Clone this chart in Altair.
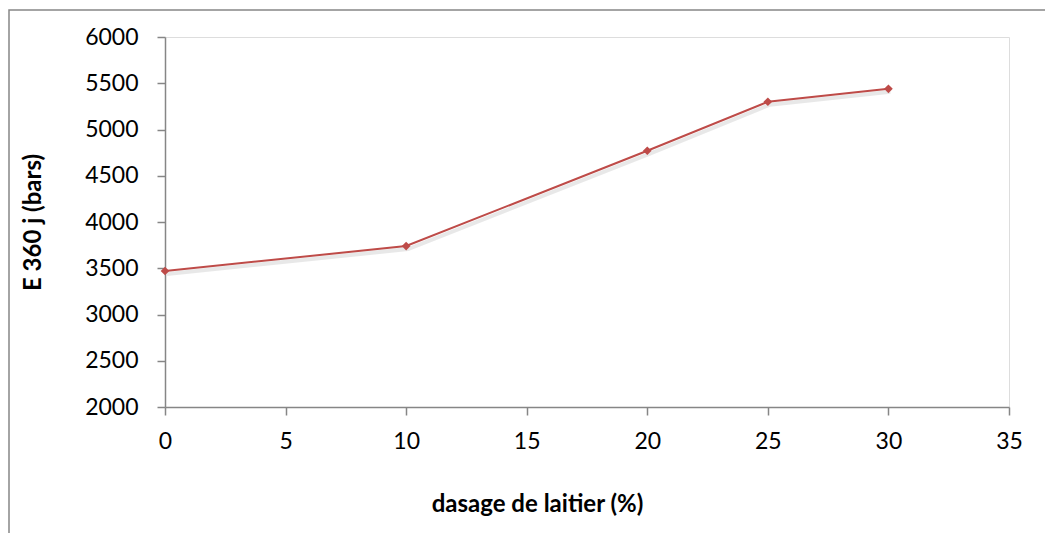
import altair as alt
import pandas as pd

# Slag dosage (%) and 360-day modulus E (bars)
dosage = [0, 10, 20, 25, 30]
e360 = [3470, 3740, 4770, 5300, 5440]

df = pd.DataFrame({"dosage": dosage, "E": e360})

RED = "#BE4B48"
GREY = "#868686"
FONT = "Lato"

x_enc = alt.X(
    "dosage:Q",
    scale=alt.Scale(domain=[0, 35], nice=False, zero=False),
    axis=alt.Axis(
        values=[0, 5, 10, 15, 20, 25, 30, 35],
        format="d",
        title="dasage de laitier (%)",
        grid=False,
        domainColor=GREY,
        domainWidth=1.5,
        tickColor=GREY,
        tickWidth=1.5,
        tickSize=8,
        labelFlush=False,
        labelPadding=15,
        labelFontSize=23,
        labelFont=FONT,
        labelColor="black",
        titleFont=FONT,
        titleFontSize=24,
        titleFontWeight="bold",
        titleColor="black",
        titleX=372,
        titleY=97,
        titleBaseline="middle",
        titleAlign="center",
    ),
)

y_enc = alt.Y(
    "E:Q",
    scale=alt.Scale(domain=[2000, 6000], nice=False, zero=False),
    axis=alt.Axis(
        values=[2000, 2500, 3000, 3500, 4000, 4500, 5000, 5500, 6000],
        format="d",
        title="E 360 j (bars)",
        grid=False,
        domainColor=GREY,
        domainWidth=1.5,
        tickColor=GREY,
        tickWidth=1.5,
        tickSize=8,
        labelFlush=False,
        labelPadding=19,
        labelFontSize=23,
        labelFont=FONT,
        labelColor="black",
        titleFont=FONT,
        titleFontSize=24,
        titleFontWeight="bold",
        titleColor="black",
        titleX=-132,
        titleBaseline="middle",
    ),
)

base = alt.Chart(df)

shadow = base.mark_line(
    color="#000000", strokeOpacity=0.09, strokeWidth=4, xOffset=2, yOffset=3
).encode(x=x_enc, y=y_enc)

line = base.mark_line(color=RED, strokeWidth=2).encode(x=x_enc, y=y_enc)

points = base.mark_point(
    shape="diamond", filled=True, color=RED, size=75, opacity=1
).encode(x=x_enc, y=y_enc)

# outer chart frame
frame = alt.Chart(pd.DataFrame({"k": [0]})).mark_rect(
    fill=None, stroke=GREY, strokeWidth=1.5, clip=False
).encode(
    x=alt.value(-156), x2=alt.value(890),
    y=alt.value(-27), y2=alt.value(510),
)

chart = (
    alt.layer(frame, shadow, line, points)
    .properties(
        width=844,
        height=370,
        autosize=alt.AutoSizeParams(type="none"),
        padding={"left": 165, "top": 37, "right": 36, "bottom": 126},
    )
    .configure_view(stroke=None)
    .configure(background="white")
)

chart.save("out.html", embed_options={"renderer": "svg", "actions": False})
